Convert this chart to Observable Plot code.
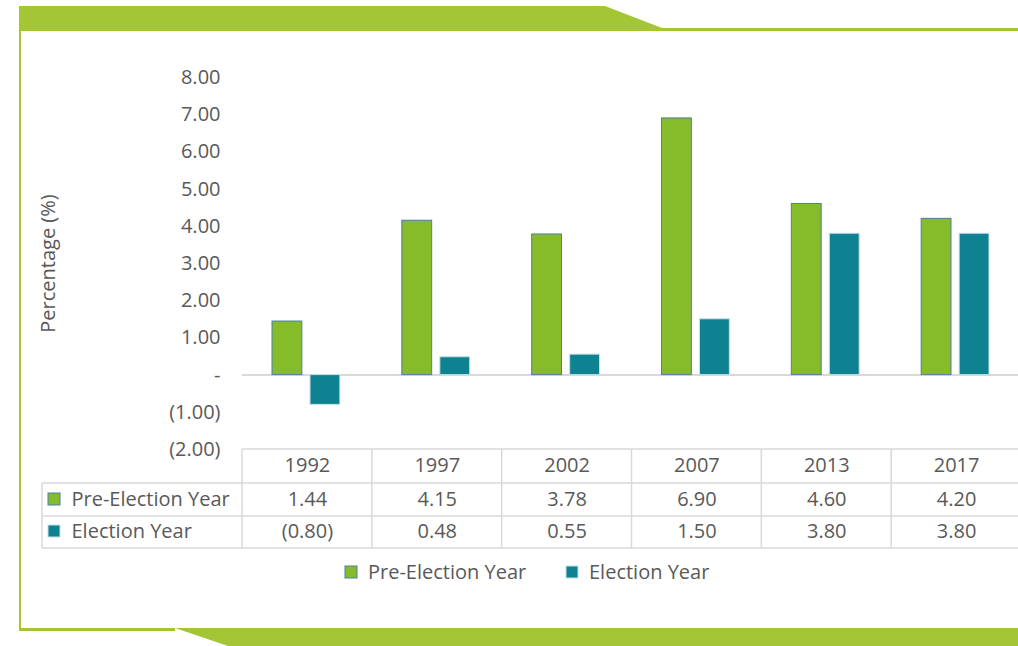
<!DOCTYPE html>
<html>
<head>
<meta charset="utf-8">
<script src="https://cdn.jsdelivr.net/npm/d3@7"></script>
<script src="https://cdn.jsdelivr.net/npm/@observablehq/plot@0.6"></script>
<style>
  html, body { margin: 0; padding: 0; background: #fff; }
  #chart { position: relative; width: 1018px; height: 646px; overflow: hidden; }
  svg { font-family: "Open Sans", sans-serif; }
</style>
</head>
<body>
<div id="chart"></div>
<script>
const years = ["1992", "1997", "2002", "2007", "2013", "2017"];
const preElection = [1.44, 4.15, 3.78, 6.90, 4.60, 4.20];
const election = [-0.80, 0.48, 0.55, 1.50, 3.80, 3.80];
const seriesNames = ["Pre-Election Year", "Election Year"];
const seriesColors = ["#86bb2a", "#0e8290"];
const yTicks = [-2, -1, 0, 1, 2, 3, 4, 5, 6, 7, 8];
const yLabel = "Percentage (%)";

const fmt = v => v === 0 ? "-" : v < 0 ? `(${Math.abs(v).toFixed(2)})` : v.toFixed(2);

const preData = years.map((y, i) => ({year: y, value: preElection[i]}));
const elData = years.map((y, i) => ({year: y, value: election[i]}));

const textColor = "#595959";
const green = "#a4c535";
const gridColor = "#d9d9d9";
const FS = 20;

const chart = Plot.plot({
  width: 1018,
  height: 646,
  marginTop: 77,
  marginBottom: 197,
  marginLeft: 242,
  marginRight: 0,
  style: {fontFamily: "'Open Sans', sans-serif", fontSize: FS + "px", color: textColor, overflow: "visible"},
  x: {domain: years, range: [242, 1021], padding: 0, round: false, axis: null},
  y: {domain: [-2, 8], range: [449, 77]},
  marks: [
    Plot.ruleY([0], {stroke: gridColor, strokeWidth: 2}),
    Plot.barY(preData, {x: "year", y: "value", fill: seriesColors[0], stroke: "#4a7fa8", strokeWidth: 1, insetLeft: 30, insetRight: 70}),
    Plot.barY(elData, {x: "year", y: "value", fill: seriesColors[1], stroke: "#c4e0e6", strokeWidth: 1, insetLeft: 68, insetRight: 32}),
    Plot.axisY({ticks: yTicks, tickFormat: fmt, tickSize: 0, tickPadding: 22, fontSize: FS, fill: textColor, label: null}),
    Plot.text([yLabel], {frameAnchor: "left", rotate: -90, dx: -194, textAnchor: "middle", lineAnchor: "middle", fontSize: FS, fill: textColor}),
    // table
    Plot.text(years, {x: d => d, frameAnchor: "bottom", dy: 16, lineAnchor: "middle", fontSize: FS, fill: textColor}),
    Plot.text(preData, {x: "year", text: d => fmt(d.value), frameAnchor: "bottom", dy: 50, lineAnchor: "middle", fontSize: FS, fill: textColor}),
    Plot.text(elData, {x: "year", text: d => fmt(d.value), frameAnchor: "bottom", dy: 82, lineAnchor: "middle", fontSize: FS, fill: textColor}),
    Plot.text([seriesNames[0]], {frameAnchor: "bottom-left", dx: -171, dy: 50, textAnchor: "start", lineAnchor: "middle", fontSize: FS, fill: textColor}),
    Plot.text([seriesNames[1]], {frameAnchor: "bottom-left", dx: -171, dy: 82, textAnchor: "start", lineAnchor: "middle", fontSize: FS, fill: textColor})
  ]
});

document.getElementById("chart").appendChild(chart);

// decorations, table grid, swatches, legend
const svg = d3.select(chart);
const xs = chart.scale("x");
const step = xs.step ?? xs.bandwidth;
const edges = years.map(y => xs.apply(y));
edges.push(edges[edges.length - 1] + step);

const deco = svg.insert("g", ":first-child");
deco.append("path").attr("fill", green)
  .attr("d", "M19,6 L605,6 L662,28 L1018,28 L1018,31 L21,31 L21,628 L175,628 L228,646 L1018,646 L1018,628 L21,628 L21,631 L19,631 Z");
deco.append("path").attr("fill", green).attr("d", "M19,6 L21,6 L21,631 L19,631 Z");
deco.append("path").attr("fill", green).attr("d", "M19,628 L175,628 L175,631 L19,631 Z");

const grid = svg.append("g").attr("stroke", gridColor).attr("stroke-width", 1.5);
const yTop = 449, r1 = 483, r2 = 516, r3 = 548;
grid.append("line").attr("x1", edges[0]).attr("x2", 1018).attr("y1", yTop).attr("y2", yTop);
[r1, r2, r3].forEach(y => grid.append("line").attr("x1", 42).attr("x2", 1018).attr("y1", y).attr("y2", y));
grid.append("line").attr("x1", 42).attr("x2", 42).attr("y1", r1).attr("y2", r3);
edges.forEach(x => grid.append("line").attr("x1", x).attr("x2", x).attr("y1", yTop).attr("y2", r3));

// table swatches
svg.append("rect").attr("x", 48).attr("y", 493).attr("width", 12).attr("height", 12).attr("fill", seriesColors[0]).attr("stroke", "#4a7fa8");
svg.append("rect").attr("x", 48).attr("y", 525).attr("width", 12).attr("height", 12).attr("fill", seriesColors[1]).attr("stroke", "#c4e0e6");

// bottom legend
const lg = svg.append("g").attr("font-size", FS).attr("fill", textColor).attr("text-anchor", "start");
[{x: 345, i: 0}, {x: 566, i: 1}].forEach(({x, i}) => {
  lg.append("rect").attr("x", x).attr("y", 566).attr("width", 12).attr("height", 12)
    .attr("fill", seriesColors[i]).attr("stroke", i === 0 ? "#4a7fa8" : "#c4e0e6");
  lg.append("text").attr("x", x + 23).attr("y", 572).attr("dy", "0.35em").text(seriesNames[i]);
});
</script>
</body>
</html>
